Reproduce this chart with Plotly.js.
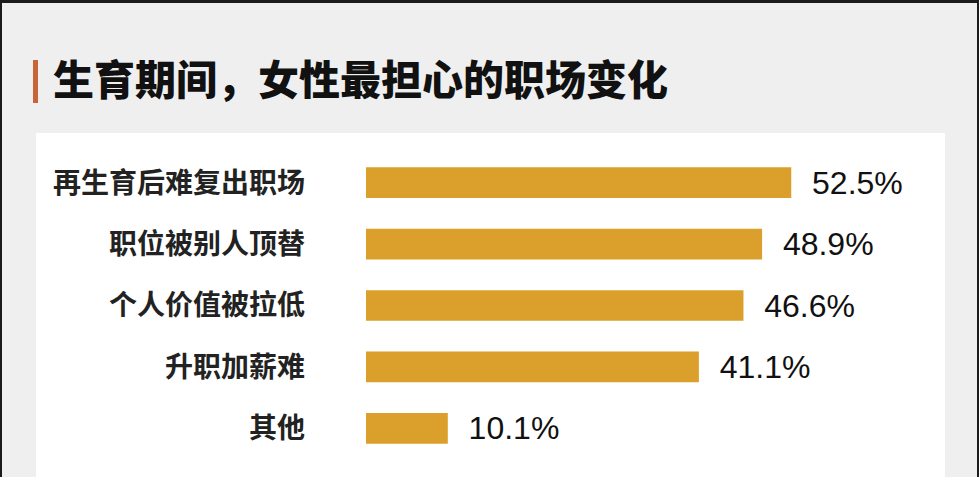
<!DOCTYPE html>
<html>
<head>
<meta charset="utf-8">
<script src="https://cdn.plot.ly/plotly-3.0.1.min.js"></script>
<style>
  html, body { margin: 0; padding: 0; background: #efefef; }
  #chart { width: 979px; height: 477px; }
</style>
</head>
<body>
<div id="chart"></div>
<script>
  // survey answers, top to bottom
  var categories = ['再生育后难复出职场', '职位被别人顶替', '个人价值被拉低', '升职加薪难', '其他'];
  var shares = [52.5, 48.9, 46.6, 41.1, 10.1];
  var valueLabels = ['52.5%', '48.9%', '46.6%', '41.1%', '10.1%'];

  var W = 979, H = 477;
  var M = { l: 366, r: 46, t: 152, b: 18 };
  var pw = W - M.l - M.r;
  var ph = H - M.t - M.b;

  // pixel -> paper coordinates, for the decorative boxes only
  function px(x) { return (x - M.l) / pw; }
  function py(y) { return (H - M.b - y) / ph; }

  function box(x0, y0, x1, y1, color) {
    return {
      type: 'rect', xref: 'paper', yref: 'paper', layer: 'below',
      x0: px(x0), x1: px(x1), y0: py(y1), y1: py(y0),
      fillcolor: color, line: { width: 0 }
    };
  }

  var trace = {
    type: 'bar',
    orientation: 'h',
    x: shares,
    y: categories,
    text: valueLabels.map(function (t) { return '\u00a0\u00a0' + t; }),
    textposition: 'outside',
    constraintext: 'none',
    cliponaxis: false,
    textfont: { family: 'Liberation Sans, Arial, sans-serif', size: 32, color: '#111111' },
    marker: { color: '#dba02b', line: { width: 0 } },
    hoverinfo: 'none'
  };

  var layout = {
    width: W,
    height: H,
    margin: M,
    paper_bgcolor: '#efefef',
    plot_bgcolor: 'rgba(0,0,0,0)',
    bargap: 0.5,
    showlegend: false,
    title: {
      text: '生育期间，女性最担心的职场变化',
      x: 53 / W, xref: 'container', xanchor: 'left',
      y: 1 - 81 / H, yref: 'container', yanchor: 'middle',
      font: { family: 'Noto Sans CJK SC, sans-serif', size: 41, weight: 900, color: '#111111' }
    },
    xaxis: {
      range: [0, 70],
      showgrid: false, zeroline: false, showline: false,
      showticklabels: false, ticks: ''
    },
    yaxis: {
      autorange: 'reversed',
      showgrid: false, zeroline: false, showline: false, ticks: '',
      ticklabelstandoff: 60,
      tickfont: { family: 'Noto Sans CJK SC, sans-serif', size: 28, weight: 'bold', color: '#222222' }
    },
    shapes: [
      box(36, 133, 945, 480, '#ffffff'),
      box(33, 60, 38, 103, '#c8643c'),
      box(-2, -2, 981, 3, '#1b1b1b'),
      box(-2, -2, 2, 480, '#1b1b1b'),
      box(977, -2, 981, 480, '#1b1b1b')
    ]
  };

  Plotly.newPlot('chart', [trace], layout, { displayModeBar: false, staticPlot: true });
</script>
</body>
</html>
